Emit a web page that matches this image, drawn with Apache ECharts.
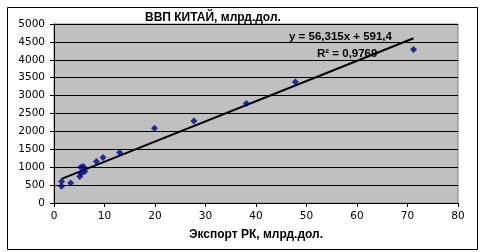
<!DOCTYPE html>
<html><head><meta charset="utf-8">
<script src="https://cdn.jsdelivr.net/npm/echarts@6/dist/echarts.min.js"></script>
<style>html,body{margin:0;padding:0;background:#fff}#c{width:481px;height:252px}</style>
</head><body><div id="c"></div>
<script>
var exportRK = [1.5, 1.5, 3.3, 5.1, 5.4, 5.3, 5.8, 6.1, 8.4, 9.7, 13.0, 19.9, 27.7, 38.1, 47.8, 71.2];
var gdpChina = [600, 470, 560, 740, 830, 1000, 1020, 880, 1160, 1270, 1410, 2090, 2290, 2780, 3380, 4290];
var trendSlope = [56.315];
var trendIntercept = [591.4];
var eqLabels = ['y = 56,315x + 591,4', 'R² = 0,9769'];
var titleText = 'ВВП КИТАЙ, млрд.дол.';
var xName = 'Экспорт РК, млрд.дол.';

var pts = exportRK.map(function(x, i){ return [x, gdpChina[i]]; });
var xmin = Math.min.apply(null, exportRK), xmax = Math.max.apply(null, exportRK);
var trend = [[xmin, trendSlope[0]*xmin + trendIntercept[0]], [xmax, trendSlope[0]*xmax + trendIntercept[0]]];

var chart = echarts.init(document.getElementById('c'), null, {renderer:'canvas'});
var lblFont = {color:'#000', fontFamily:'DejaVu Sans', fontSize:10.5, formatter:function(v){return String(v);}};
chart.setOption({
  animation:false,
  backgroundColor:'#fff',
  title:{text:titleText, left:140, top:7, textStyle:{fontFamily:'Liberation Sans', fontWeight:'bold', fontSize:12, color:'#000'}},
  grid:{left:54, right:23, top:24, bottom:49, show:true, backgroundColor:'#C0C0C0', borderColor:'#808080', borderWidth:1},
  xAxis:{type:'value', min:0, max:80, interval:10,
    name:xName, nameLocation:'middle', nameGap:26,
    nameTextStyle:{fontFamily:'Liberation Sans', fontWeight:'bold', fontSize:12, color:'#000'},
    axisLine:{show:true, onZero:false, lineStyle:{color:'#000', width:1}},
    axisTick:{show:true, inside:false, length:4, lineStyle:{color:'#000'}},
    axisLabel:Object.assign({margin:8}, lblFont),
    splitLine:{show:false}},
  yAxis:{type:'value', min:0, max:5000, interval:500,
    axisLine:{show:true, onZero:false, lineStyle:{color:'#000', width:1}},
    axisTick:{show:true, inside:false, length:4, lineStyle:{color:'#000'}},
    axisLabel:Object.assign({margin:9}, lblFont),
    splitLine:{show:true, lineStyle:{color:'#000', width:1}}},
  series:[
    {type:'line', data:trend, showSymbol:false, symbol:'none', lineStyle:{color:'#000', width:2}, z:3, silent:true},
    {type:'scatter', data:pts, symbol:'diamond', symbolSize:7, itemStyle:{color:'#000080'}, z:4}
  ],
  graphic:[
    {type:'rect', left:5, top:5, shape:{width:470, height:242}, style:{fill:'none', stroke:'#000', lineWidth:1}, z:-1},
    {type:'text', left:289, top:31, style:{text:eqLabels[0], font:'bold 11.5px "Liberation Sans"', fill:'#000'}, z:10},
    {type:'text', left:317, top:48, style:{text:eqLabels[1], font:'bold 11.5px "Liberation Sans"', fill:'#000'}, z:10}
  ]
});
</script></body></html>
